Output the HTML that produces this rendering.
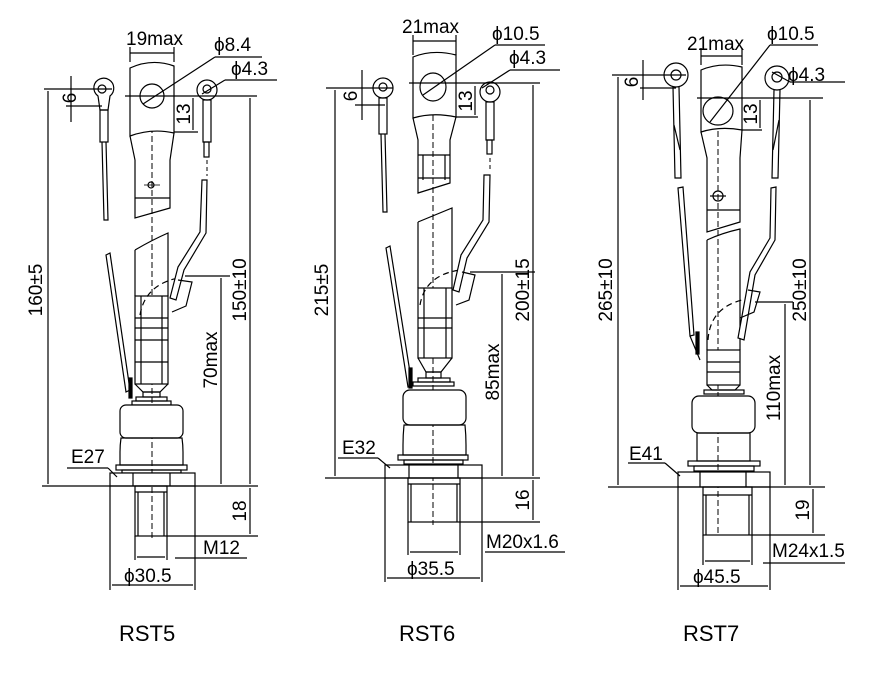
<!DOCTYPE html>
<html><head><meta charset="utf-8"><style>
html,body{margin:0;padding:0;background:#fff}
svg{display:block}
text{font-family:"Liberation Sans",Arial,sans-serif;fill:#000}
</style></head><body>
<svg width="883" height="693" viewBox="0 0 883 693" xmlns="http://www.w3.org/2000/svg">
<g fill="none" stroke="#000" stroke-width="1.2">

<!-- ================= RST5 ================= -->
<line x1="152" y1="82" x2="152" y2="540" stroke-dasharray="6,3" stroke-width="1"/>
<path d="M130,68 Q152,58 174,66 L174,133 Q152,128 130,136 Z" fill="#fff"/>
<path d="M130,136 L135,160 L135,218 L170,208 L170,160 L174,133"/>
<line x1="135" y1="198" x2="170" y2="198"/>
<circle cx="152" cy="96" r="12"/>
<circle cx="151" cy="185" r="3"/>
<line x1="144" y1="185" x2="160" y2="185" stroke-width="0.8"/>
<path d="M135,250 Q152,240 168,233 L168,296 M135,250 L135,296"/>
<rect x="135" y="296" width="33" height="88" fill="#fff"/>
<line x1="135" y1="318" x2="168" y2="318"/><line x1="135" y1="328" x2="168" y2="328"/>
<line x1="135" y1="340" x2="168" y2="340"/><line x1="135" y1="362" x2="168" y2="362"/>
<line x1="141" y1="296" x2="141" y2="384"/><line x1="162" y1="296" x2="162" y2="384"/>
<path d="M135,384 L143,392 L160,392 L168,384"/>
<rect x="143" y="392" width="17" height="5"/>
<rect x="136" y="397" width="31" height="4"/>
<rect x="132" y="401" width="39" height="4"/>
<rect x="120" y="405" width="63" height="33" rx="6" fill="#fff"/>
<path d="M121,438 Q120,445 120,452 L120,465 L183,465 L183,452 Q183,445 182,438 Z"/>
<rect x="116" y="465" width="71" height="5"/>
<rect x="122" y="470" width="59" height="3"/>
<rect x="110" y="473" width="85" height="13" fill="#fff"/>
<line x1="133" y1="473" x2="133" y2="486"/><line x1="170" y1="473" x2="170" y2="486"/>
<rect x="135" y="486" width="32" height="50"/>
<line x1="135" y1="492" x2="167" y2="492"/>
<line x1="138" y1="492" x2="138" y2="536"/><line x1="164" y1="492" x2="164" y2="536"/>
<path d="M140,315 Q145,285 178,278" stroke-dasharray="6,4"/>
<path d="M94,86 A10,10 0 1 1 110,96 L108,110 L100,110 L98,96 A10,10 0 0 1 94,86 Z" fill="#fff"/>
<circle cx="102" cy="89" r="4"/>
<rect x="100" y="110" width="8" height="32"/>
<path d="M102,142 L104,220 L108,220 L106,142"/>
<path d="M106,255 L110,253 L130,390 L126,392 Z"/>
<rect x="129" y="378" width="3" height="20" fill="#000"/>
<circle cx="207" cy="90" r="10" fill="#fff"/>
<circle cx="207" cy="89" r="4"/>
<rect x="203" y="100" width="8" height="42"/>
<rect x="204" y="142" width="5" height="15"/>
<line x1="207" y1="160" x2="207" y2="176" stroke-dasharray="4,3" stroke-width="1"/>
<path d="M202,180 L207,180 L206,233 L184,270 L176,300 L170,298 L178,267 L200,232 Z" fill="#fff"/>
<path d="M178,280 L192,282 L186,306 L172,312"/>
<line x1="130" y1="62" x2="130" y2="47"/><line x1="174" y1="62" x2="174" y2="47"/>
<line x1="130" y1="53" x2="174" y2="53"/>
<line x1="125" y1="96" x2="257" y2="96"/>
<line x1="143" y1="104" x2="215" y2="57"/><line x1="215" y1="57" x2="262" y2="57"/>
<line x1="202" y1="94" x2="225" y2="80"/><line x1="225" y1="80" x2="277" y2="80"/>
<line x1="44" y1="89" x2="112" y2="89"/><line x1="66" y1="106" x2="102" y2="106"/>
<line x1="71" y1="76" x2="71" y2="122"/>
<line x1="174" y1="132" x2="198" y2="132"/>
<line x1="193" y1="98" x2="193" y2="130"/>
<line x1="48" y1="91" x2="48" y2="484"/>
<line x1="250" y1="98" x2="250" y2="484"/>
<line x1="185" y1="276" x2="230" y2="276"/>
<line x1="221" y1="278" x2="221" y2="484"/>
<line x1="42" y1="486" x2="258" y2="486"/>
<line x1="167" y1="536" x2="258" y2="536"/>
<line x1="250" y1="488" x2="250" y2="534"/>
<line x1="135" y1="536" x2="135" y2="560"/><line x1="167" y1="536" x2="167" y2="560"/>
<line x1="137" y1="557" x2="165" y2="557"/>
<line x1="175" y1="558" x2="247" y2="558"/>
<line x1="110" y1="486" x2="110" y2="590"/><line x1="195" y1="486" x2="195" y2="590"/>
<line x1="112" y1="585" x2="193" y2="585"/>
<line x1="67" y1="468" x2="108" y2="468"/><line x1="108" y1="468" x2="117" y2="477"/>

<!-- ================= RST6 ================= -->
<line x1="433" y1="70" x2="433" y2="525" stroke-dasharray="6,3" stroke-width="1"/>
<path d="M413,57 Q433,49 456,55 L456,117 Q433,112 413,118 Z" fill="#fff"/>
<path d="M413,118 L418,140 L418,193 L450,183 L450,140 L456,117"/>
<line x1="418" y1="155" x2="450" y2="155"/><line x1="418" y1="178" x2="450" y2="178"/>
<line x1="423" y1="155" x2="423" y2="180"/><line x1="445" y1="155" x2="445" y2="180"/>
<ellipse cx="433" cy="87" rx="13" ry="14"/>
<path d="M418,222 Q435,215 452,208 L452,288 M418,222 L418,288"/>
<rect x="418" y="288" width="34" height="70" fill="#fff"/>
<line x1="418" y1="318" x2="452" y2="318"/><line x1="418" y1="328" x2="452" y2="328"/>
<line x1="424" y1="288" x2="424" y2="358"/><line x1="446" y1="288" x2="446" y2="358"/>
<path d="M418,358 L426,372 L441,372 L452,358"/>
<rect x="426" y="372" width="15" height="6"/>
<rect x="418" y="378" width="32" height="4"/>
<rect x="413" y="382" width="41" height="4"/>
<rect x="403" y="390" width="63" height="35" rx="7" fill="#fff"/>
<path d="M404,425 Q403,435 403,445 L403,455 L466,455 L466,445 Q466,435 465,425 Z"/>
<rect x="398" y="455" width="70" height="5"/>
<rect x="404" y="460" width="59" height="4"/>
<rect x="385" y="465" width="97" height="13" fill="#fff"/>
<line x1="409" y1="465" x2="409" y2="478"/><line x1="458" y1="465" x2="458" y2="478"/>
<rect x="408" y="478" width="52" height="44"/>
<line x1="408" y1="484" x2="460" y2="484"/>
<line x1="411" y1="484" x2="411" y2="522"/><line x1="457" y1="484" x2="457" y2="522"/>
<path d="M420,305 Q425,275 460,270" stroke-dasharray="6,4"/>
<circle cx="383" cy="88" r="10" fill="#fff"/><circle cx="383" cy="87" r="4"/>
<rect x="379" y="98" width="8" height="36"/>
<path d="M381,134 L383,212 L387,212 L385,134"/>
<path d="M386,248 L390,246 L412,385 L408,387 Z"/>
<rect x="409" y="368" width="3" height="20" fill="#000"/>
<circle cx="490" cy="92" r="10" fill="#fff"/><circle cx="490" cy="90" r="4"/>
<rect x="486" y="102" width="8" height="38"/>
<rect x="487" y="140" width="5" height="14"/>
<line x1="490" y1="158" x2="490" y2="172" stroke-dasharray="4,3" stroke-width="1"/>
<path d="M484,175 L490,175 L489,222 L467,258 L459,292 L453,290 L461,255 L483,220 Z" fill="#fff"/>
<path d="M462,272 L475,275 L469,300 L456,305"/>
<line x1="413" y1="55" x2="413" y2="35"/><line x1="456" y1="55" x2="456" y2="35"/>
<line x1="413" y1="41" x2="456" y2="41"/>
<line x1="409" y1="83" x2="540" y2="83"/>
<line x1="423" y1="95" x2="495" y2="45"/><line x1="495" y1="45" x2="545" y2="45"/>
<line x1="482" y1="88" x2="510" y2="70"/><line x1="510" y1="70" x2="560" y2="70"/>
<line x1="326" y1="88" x2="393" y2="88"/><line x1="355" y1="105" x2="385" y2="105"/>
<line x1="362" y1="70" x2="362" y2="120"/>
<line x1="456" y1="117" x2="478" y2="117"/>
<line x1="475" y1="86" x2="475" y2="115"/>
<line x1="335" y1="90" x2="335" y2="476"/>
<line x1="533" y1="85" x2="533" y2="476"/>
<line x1="470" y1="272" x2="535" y2="272"/>
<line x1="502" y1="274" x2="502" y2="476"/>
<line x1="325" y1="478" x2="540" y2="478"/>
<line x1="460" y1="522" x2="540" y2="522"/>
<line x1="533" y1="480" x2="533" y2="520"/>
<line x1="408" y1="522" x2="408" y2="555"/><line x1="460" y1="522" x2="460" y2="555"/>
<line x1="410" y1="552" x2="458" y2="552"/>
<line x1="485" y1="552" x2="565" y2="552"/>
<line x1="385" y1="478" x2="385" y2="582"/><line x1="482" y1="478" x2="482" y2="582"/>
<line x1="387" y1="578" x2="480" y2="578"/>
<line x1="338" y1="458" x2="378" y2="458"/><line x1="378" y1="458" x2="390" y2="468"/>

<!-- ================= RST7 ================= -->
<line x1="718" y1="95" x2="718" y2="535" stroke-dasharray="6,3" stroke-width="1"/>
<path d="M701,70 Q720,62 742,67 L742,130 Q720,126 701,132 Z" fill="#fff"/>
<path d="M701,132 L707,158 L707,232 L740,222 L740,158 L742,130"/>
<line x1="707" y1="210" x2="740" y2="210"/>
<ellipse cx="718" cy="111" rx="15" ry="14"/>
<circle cx="718" cy="196" r="5"/>
<line x1="710" y1="196" x2="726" y2="196"/>
<path d="M707,240 Q722,233 740,229 L740,350 M707,240 L707,350"/>
<rect x="707" y="350" width="33" height="35" fill="#fff"/>
<line x1="707" y1="362" x2="740" y2="362"/><line x1="707" y1="372" x2="740" y2="372"/>
<path d="M707,385 L712,390 L735,390 L740,385"/>
<rect x="704" y="390" width="40" height="4"/>
<rect x="692" y="396" width="63" height="37" rx="7" fill="#fff"/>
<rect x="697" y="433" width="53" height="28"/>
<rect x="688" y="461" width="72" height="5"/>
<rect x="694" y="466" width="60" height="5"/>
<rect x="678" y="472" width="92" height="15" fill="#fff"/>
<line x1="700" y1="472" x2="700" y2="487"/><line x1="746" y1="472" x2="746" y2="487"/>
<rect x="703" y="487" width="49" height="48"/>
<line x1="703" y1="495" x2="752" y2="495"/>
<line x1="706" y1="495" x2="706" y2="535"/><line x1="749" y1="495" x2="749" y2="535"/>
<path d="M708,340 Q710,308 742,300" stroke-dasharray="6,4"/>
<circle cx="676" cy="75" r="12" fill="#fff"/><circle cx="676" cy="75" r="5"/>
<path d="M673,87 L675,178 L681,178 L679,87"/>
<line x1="674" y1="125" x2="680" y2="150"/>
<path d="M678,188 L683,187 L694,335 L690,336 Z"/>
<rect x="696" y="332" width="3" height="22" fill="#000"/>
<path d="M690,336 L700,360"/>
<circle cx="777" cy="78" r="12" fill="#fff"/><circle cx="777" cy="77" r="5"/>
<path d="M774,90 L772,178 L778,178 L780,90"/>
<line x1="779" y1="120" x2="773" y2="150"/>
<path d="M771,188 L776,187 L775,240 L755,275 L744,340 L738,338 L750,272 L770,238 Z" fill="#fff"/>
<path d="M748,290 L760,292 L754,312 L740,318"/>
<line x1="701" y1="65" x2="701" y2="48"/><line x1="742" y1="65" x2="742" y2="48"/>
<line x1="701" y1="56" x2="742" y2="56"/>
<line x1="697" y1="98" x2="823" y2="98"/>
<line x1="710" y1="122" x2="770" y2="45"/><line x1="770" y1="45" x2="818" y2="45"/>
<line x1="772" y1="72" x2="790" y2="82"/><line x1="790" y1="82" x2="845" y2="82"/>
<line x1="612" y1="75" x2="686" y2="75"/><line x1="640" y1="88" x2="676" y2="88"/>
<line x1="643" y1="60" x2="643" y2="100"/>
<line x1="742" y1="130" x2="762" y2="130"/>
<line x1="760" y1="100" x2="760" y2="128"/>
<line x1="618" y1="77" x2="618" y2="485"/>
<line x1="810" y1="100" x2="810" y2="485"/>
<line x1="755" y1="302" x2="793" y2="302"/>
<line x1="785" y1="304" x2="785" y2="485"/>
<line x1="608" y1="487" x2="825" y2="487"/>
<line x1="752" y1="535" x2="825" y2="535"/>
<line x1="813" y1="489" x2="813" y2="533"/>
<line x1="703" y1="535" x2="703" y2="565"/><line x1="752" y1="535" x2="752" y2="565"/>
<line x1="705" y1="561" x2="750" y2="561"/>
<line x1="763" y1="563" x2="845" y2="563"/>
<line x1="678" y1="487" x2="678" y2="590"/><line x1="770" y1="487" x2="770" y2="590"/>
<line x1="680" y1="586" x2="768" y2="586"/>
<line x1="628" y1="463" x2="665" y2="463"/><line x1="665" y1="463" x2="680" y2="476"/>
</g>

<g font-size="19">
<text x="126" y="45">19max</text>
<text x="214" y="51">ϕ8.4</text>
<text x="231" y="75">ϕ4.3</text>
<text x="71" y="463">E27</text>
<text x="203" y="554">M12</text>
<text x="124" y="582">ϕ30.5</text>
<text transform="translate(76,98) rotate(-90)" text-anchor="middle">6</text>
<text transform="translate(190,114) rotate(-90)" text-anchor="middle">13</text>
<text transform="translate(42,290) rotate(-90)" text-anchor="middle">160±5</text>
<text transform="translate(246,290) rotate(-90)" text-anchor="middle">150±10</text>
<text transform="translate(217,360) rotate(-90)" text-anchor="middle">70max</text>
<text transform="translate(246,511) rotate(-90)" text-anchor="middle">18</text>

<text x="402" y="33">21max</text>
<text x="492" y="40">ϕ10.5</text>
<text x="509" y="64">ϕ4.3</text>
<text x="342" y="454">E32</text>
<text x="486" y="548">M20x1.6</text>
<text x="407" y="575">ϕ35.5</text>
<text transform="translate(357,96) rotate(-90)" text-anchor="middle">6</text>
<text transform="translate(472,101) rotate(-90)" text-anchor="middle">13</text>
<text transform="translate(328,290) rotate(-90)" text-anchor="middle">215±5</text>
<text transform="translate(529,290) rotate(-90)" text-anchor="middle">200±15</text>
<text transform="translate(499,372) rotate(-90)" text-anchor="middle">85max</text>
<text transform="translate(529,500) rotate(-90)" text-anchor="middle">16</text>

<text x="687" y="50">21max</text>
<text x="767" y="40">ϕ10.5</text>
<text x="788" y="81">ϕ4.3</text>
<text x="629" y="460">E41</text>
<text x="772" y="557">M24x1.5</text>
<text x="693" y="583">ϕ45.5</text>
<text transform="translate(638,82) rotate(-90)" text-anchor="middle">6</text>
<text transform="translate(757,114) rotate(-90)" text-anchor="middle">13</text>
<text transform="translate(612,290) rotate(-90)" text-anchor="middle">265±10</text>
<text transform="translate(806,290) rotate(-90)" text-anchor="middle">250±10</text>
<text transform="translate(780,388) rotate(-90)" text-anchor="middle">110max</text>
<text transform="translate(809,510) rotate(-90)" text-anchor="middle">19</text>
</g>
<g font-size="22">
<text x="119" y="641">RST5</text>
<text x="399" y="641">RST6</text>
<text x="683" y="641">RST7</text>
</g>
</svg>
</body></html>
